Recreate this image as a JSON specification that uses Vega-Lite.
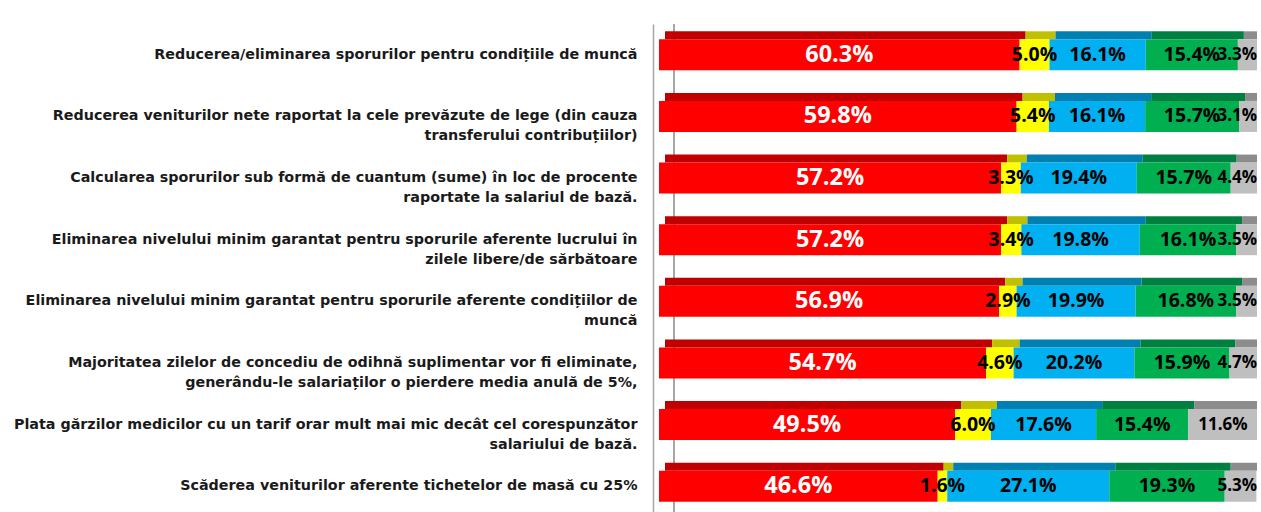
{
  "$schema": "https://vega.github.io/schema/vega-lite/v6.json",
  "width": 598,
  "height": 493,
  "autosize": {"type": "none"},
  "padding": {"left": 659, "top": 24, "right": 0, "bottom": 0},
  "background": "white",
  "config": {"view": {"stroke": null}},
  "data": {
    "values": [
      {"cat": "Reducerea/eliminarea sporurilor pentru condițiile de muncă", "seg": 1, "value": 60.3},
      {"cat": "Reducerea/eliminarea sporurilor pentru condițiile de muncă", "seg": 2, "value": 5.0},
      {"cat": "Reducerea/eliminarea sporurilor pentru condițiile de muncă", "seg": 3, "value": 16.1},
      {"cat": "Reducerea/eliminarea sporurilor pentru condițiile de muncă", "seg": 4, "value": 15.4},
      {"cat": "Reducerea/eliminarea sporurilor pentru condițiile de muncă", "seg": 5, "value": 3.3},
      {"cat": "Reducerea veniturilor nete raportat la cele prevăzute de lege (din cauza|transferului contribuțiilor)", "seg": 1, "value": 59.8},
      {"cat": "Reducerea veniturilor nete raportat la cele prevăzute de lege (din cauza|transferului contribuțiilor)", "seg": 2, "value": 5.4},
      {"cat": "Reducerea veniturilor nete raportat la cele prevăzute de lege (din cauza|transferului contribuțiilor)", "seg": 3, "value": 16.1},
      {"cat": "Reducerea veniturilor nete raportat la cele prevăzute de lege (din cauza|transferului contribuțiilor)", "seg": 4, "value": 15.7},
      {"cat": "Reducerea veniturilor nete raportat la cele prevăzute de lege (din cauza|transferului contribuțiilor)", "seg": 5, "value": 3.1},
      {"cat": "Calcularea sporurilor sub formă de cuantum (sume) în loc de procente|raportate la salariul de bază.", "seg": 1, "value": 57.2},
      {"cat": "Calcularea sporurilor sub formă de cuantum (sume) în loc de procente|raportate la salariul de bază.", "seg": 2, "value": 3.3},
      {"cat": "Calcularea sporurilor sub formă de cuantum (sume) în loc de procente|raportate la salariul de bază.", "seg": 3, "value": 19.4},
      {"cat": "Calcularea sporurilor sub formă de cuantum (sume) în loc de procente|raportate la salariul de bază.", "seg": 4, "value": 15.7},
      {"cat": "Calcularea sporurilor sub formă de cuantum (sume) în loc de procente|raportate la salariul de bază.", "seg": 5, "value": 4.4},
      {"cat": "Eliminarea nivelului minim garantat pentru sporurile aferente lucrului în|zilele libere/de sărbătoare", "seg": 1, "value": 57.2},
      {"cat": "Eliminarea nivelului minim garantat pentru sporurile aferente lucrului în|zilele libere/de sărbătoare", "seg": 2, "value": 3.4},
      {"cat": "Eliminarea nivelului minim garantat pentru sporurile aferente lucrului în|zilele libere/de sărbătoare", "seg": 3, "value": 19.8},
      {"cat": "Eliminarea nivelului minim garantat pentru sporurile aferente lucrului în|zilele libere/de sărbătoare", "seg": 4, "value": 16.1},
      {"cat": "Eliminarea nivelului minim garantat pentru sporurile aferente lucrului în|zilele libere/de sărbătoare", "seg": 5, "value": 3.5},
      {"cat": "Eliminarea nivelului minim garantat pentru sporurile aferente condițiilor de|muncă", "seg": 1, "value": 56.9},
      {"cat": "Eliminarea nivelului minim garantat pentru sporurile aferente condițiilor de|muncă", "seg": 2, "value": 2.9},
      {"cat": "Eliminarea nivelului minim garantat pentru sporurile aferente condițiilor de|muncă", "seg": 3, "value": 19.9},
      {"cat": "Eliminarea nivelului minim garantat pentru sporurile aferente condițiilor de|muncă", "seg": 4, "value": 16.8},
      {"cat": "Eliminarea nivelului minim garantat pentru sporurile aferente condițiilor de|muncă", "seg": 5, "value": 3.5},
      {"cat": "Majoritatea zilelor de concediu de odihnă suplimentar vor fi eliminate,|generându-le salariaților o pierdere media anulă de 5%,", "seg": 1, "value": 54.7},
      {"cat": "Majoritatea zilelor de concediu de odihnă suplimentar vor fi eliminate,|generându-le salariaților o pierdere media anulă de 5%,", "seg": 2, "value": 4.6},
      {"cat": "Majoritatea zilelor de concediu de odihnă suplimentar vor fi eliminate,|generându-le salariaților o pierdere media anulă de 5%,", "seg": 3, "value": 20.2},
      {"cat": "Majoritatea zilelor de concediu de odihnă suplimentar vor fi eliminate,|generându-le salariaților o pierdere media anulă de 5%,", "seg": 4, "value": 15.9},
      {"cat": "Majoritatea zilelor de concediu de odihnă suplimentar vor fi eliminate,|generându-le salariaților o pierdere media anulă de 5%,", "seg": 5, "value": 4.7},
      {"cat": "Plata gărzilor medicilor cu un tarif orar mult mai mic decât cel corespunzător|salariului de bază.", "seg": 1, "value": 49.5},
      {"cat": "Plata gărzilor medicilor cu un tarif orar mult mai mic decât cel corespunzător|salariului de bază.", "seg": 2, "value": 6.0},
      {"cat": "Plata gărzilor medicilor cu un tarif orar mult mai mic decât cel corespunzător|salariului de bază.", "seg": 3, "value": 17.6},
      {"cat": "Plata gărzilor medicilor cu un tarif orar mult mai mic decât cel corespunzător|salariului de bază.", "seg": 4, "value": 15.4},
      {"cat": "Plata gărzilor medicilor cu un tarif orar mult mai mic decât cel corespunzător|salariului de bază.", "seg": 5, "value": 11.6},
      {"cat": "Scăderea veniturilor aferente tichetelor de masă cu 25%", "seg": 1, "value": 46.6},
      {"cat": "Scăderea veniturilor aferente tichetelor de masă cu 25%", "seg": 2, "value": 1.6},
      {"cat": "Scăderea veniturilor aferente tichetelor de masă cu 25%", "seg": 3, "value": 27.1},
      {"cat": "Scăderea veniturilor aferente tichetelor de masă cu 25%", "seg": 4, "value": 19.3},
      {"cat": "Scăderea veniturilor aferente tichetelor de masă cu 25%", "seg": 5, "value": 5.3}
    ]
  },
  "transform": [
    {"stack": "value", "groupby": ["cat"], "sort": [{"field": "seg", "order": "ascending"}], "as": ["x0", "x1"]},
    {"calculate": "datum.seg == 5 ? min((datum.x0 + datum.x1) / 2, 96.7) : (datum.x0 + datum.x1) / 2", "as": "mid"},
    {"calculate": "format(datum.value, '.1f') + '%'", "as": "lbl"}
  ],
  "layer": [
    {
      "mark": {"type": "rule", "color": "#A6A6A6", "strokeWidth": 1.5},
      "encoding": {"x": {"datum": 2.5, "type": "quantitative", "scale": {"domain": [0, 100], "nice": false}, "axis": null}}
    },
    {
      "mark": {"type": "bar", "height": 8, "yOffset": -19.5, "xOffset": 6, "x2Offset": 6},
      "encoding": {
        "y": {
          "field": "cat",
          "type": "nominal",
          "sort": null,
          "axis": {
            "title": null,
            "ticks": false,
            "tickSize": 0,
            "offset": 6,
            "domainColor": "#A6A6A6",
            "domainWidth": 1.5,
            "labelFont": "DejaVu Sans",
            "labelFontWeight": "bold",
            "labelFontSize": 14.3,
            "labelColor": "#1a1a1a",
            "labelPadding": 16,
            "labelLimit": 700,
            "labelLineHeight": 20,
            "labelExpr": "split(datum.label, '|')"
          }
        },
        "x": {"field": "x0", "type": "quantitative", "axis": null},
        "x2": {"field": "x1"},
        "color": {"field": "seg", "type": "ordinal", "legend": null, "scale": {"domain": [1, 2, 3, 4, 5], "range": ["#C00000", "#C0C000", "#0080B0", "#008040", "#8C8C8C"]}}
      }
    },
    {
      "mark": {"type": "bar", "height": 31},
      "encoding": {
        "y": {"field": "cat", "type": "nominal", "sort": null},
        "x": {"field": "x0", "type": "quantitative", "axis": null},
        "x2": {"field": "x1"},
        "color": {"field": "seg", "type": "ordinal", "legend": null, "scale": {"domain": [1, 2, 3, 4, 5], "range": ["#FF0000", "#FFFF00", "#00B0F0", "#00B050", "#BFBFBF"]}}
      }
    },
    {
      "transform": [{"filter": "datum.seg == 1"}],
      "mark": {"type": "text", "font": "Open Sans", "fontWeight": "bold", "fontSize": 23.5, "color": "white", "baseline": "middle", "align": "center"},
      "encoding": {
        "y": {"field": "cat", "type": "nominal", "sort": null},
        "x": {"field": "mid", "type": "quantitative", "axis": null},
        "text": {"field": "lbl", "type": "nominal"}
      }
    },
    {
      "transform": [{"filter": "datum.seg != 1 && datum.seg != 5"}],
      "mark": {"type": "text", "font": "Open Sans", "fontWeight": "bold", "fontSize": 19.5, "color": "black", "baseline": "middle", "align": "center"},
      "encoding": {
        "y": {"field": "cat", "type": "nominal", "sort": null},
        "x": {"field": "mid", "type": "quantitative", "axis": null},
        "text": {"field": "lbl", "type": "nominal"}
      }
    },
    {
      "transform": [{"filter": "datum.seg == 5"}],
      "mark": {"type": "text", "font": "Open Sans", "fontWeight": "bold", "fontSize": 17, "color": "black", "baseline": "middle", "align": "center"},
      "encoding": {
        "y": {"field": "cat", "type": "nominal", "sort": null},
        "x": {"field": "mid", "type": "quantitative", "axis": null},
        "text": {"field": "lbl", "type": "nominal"}
      }
    }
  ],
  "resolve": {"scale": {"color": "independent"}}
}
